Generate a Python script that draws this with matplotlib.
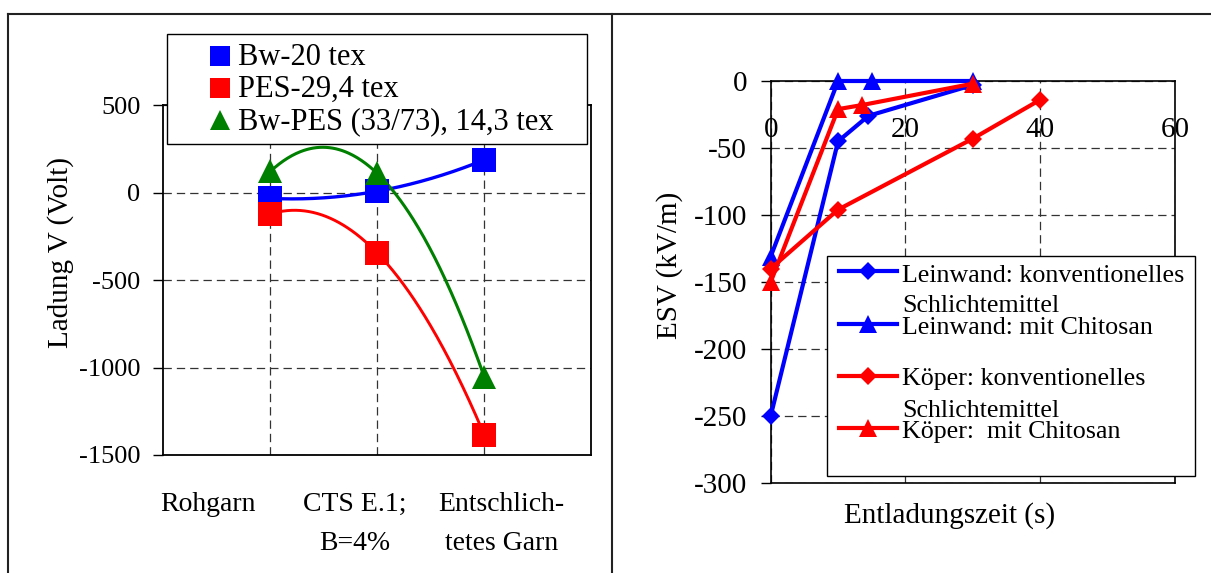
import numpy as np
import matplotlib
matplotlib.use("Agg")
import matplotlib.pyplot as plt
from matplotlib.lines import Line2D
from matplotlib.patches import Rectangle
from matplotlib import transforms

plt.rcParams["font.family"] = ["Liberation Serif", "DejaVu Serif"]
plt.rcParams["axes.unicode_minus"] = False
plt.rcParams["lines.scale_dashes"] = False

# ---- left panel: surface charge of yarns ----
stages = ["Rohgarn", "CTS E.1;\nB=4%", "Entschlich-\ntetes Garn"]
stage_x = [1, 2, 3]
bw20 = [-32, 9, 188]
pes294 = [-121, -344, -1383]
bwpes = [122, 111, -1051]
left_series = [
    ("Bw-20 tex", bw20, "#0000FF", "s", 2.4),
    ("PES-29,4 tex", pes294, "#FF0000", "s", 2.1),
    ("Bw-PES (33/73), 14,3 tex", bwpes, "#008000", "^", 2.2),
]
left_yticks = [-1500, -1000, -500, 0, 500]

# ---- right panel: field strength decay ----
lw_konv_t = [0, 10, 14.5, 30]
lw_konv_v = [-250, -45, -26, -3]
lw_chit_t = [0, 10, 15, 30]
lw_chit_v = [-131, 0, 0, 0]
kp_konv_t = [0, 10, 30, 40]
kp_konv_v = [-140, -96, -43, -14]
kp_chit_t = [0, 10, 13.5, 30]
kp_chit_v = [-150, -21, -18, -2]
right_series = [
    ("Leinwand: konventionelles\nSchlichtemittel", lw_konv_t, lw_konv_v, "#0000FF", "D"),
    ("Leinwand: mit Chitosan", lw_chit_t, lw_chit_v, "#0000FF", "^"),
    ("Köper: konventionelles\nSchlichtemittel", kp_konv_t, kp_konv_v, "#FF0000", "D"),
    ("Köper:  mit Chitosan", kp_chit_t, kp_chit_v, "#FF0000", "^"),
]
right_xticks = [0, 20, 40, 60]
right_yticks = list(range(-300, 1, 50))

W, H = 1211, 573
fig = plt.figure(figsize=(W / 100, H / 100), dpi=100)


def fx(x):
    return x / W


def fy(y):
    return 1 - y / H


grid_kw = dict(color="#333333", linewidth=0.9, linestyle=(0, (6, 3.6)))

# ---------------- left axes ----------------
axL = fig.add_axes([fx(163.4), fy(455), (591 - 163.4) / W, (455 - 105.4) / H])
for name, vals, col, mk, lw in left_series:
    coef = np.polyfit(stage_x, vals, 2)
    xs = np.linspace(stage_x[0], stage_x[-1], 200)
    axL.plot(xs, np.polyval(coef, xs), color=col, lw=lw, zorder=3)
    axL.plot(stage_x, vals, linestyle="none", marker=mk, ms=17.5,
             color=col, mec=col, mew=0, zorder=4)
axL.set_xlim(0, 4)
axL.set_ylim(-1500, 500)
axL.set_yticks(left_yticks)
axL.set_xticks(stage_x)
axL.set_xticklabels([])
axL.tick_params(axis="y", direction="out", length=7, width=1, pad=9.5,
                labelsize=19)
axL.tick_params(axis="x", length=0)
axL.grid(True, **grid_kw)
axL.set_axisbelow(True)
for s in axL.spines.values():
    s.set_linewidth(1.3)
    s.set_color("black")

tL = transforms.blended_transform_factory(axL.transData, fig.transFigure)
for xpos, lab in zip([0.42, 1.79, 3.16], stages):
    lines = lab.split("\n")
    for i, ln in enumerate(lines):
        axL.text(xpos, fy(510.7 + 39.5 * i), ln, transform=tL, ha="center",
                 va="baseline", fontsize=20, clip_on=False)

fig.text(fx(61), fy(252), "Ladung V (Volt)", rotation=90, ha="center",
         va="center", fontsize=21)

# left legend
fig.add_artist(Rectangle((fx(167), fy(144)), (587 - 167) / W, (144 - 34) / H,
                         transform=fig.transFigure, facecolor="white",
                         edgecolor="black", lw=1, zorder=5))
for (name, vals, col, mk, lw), yr, yb in zip(left_series, [56, 88, 120],
                                            [65, 97, 129]):
    fig.add_artist(Line2D([fx(220)], [fy(yr)], marker=mk, ms=14.5, color=col,
                          mew=0, linestyle="none",
                          transform=fig.transFigure, zorder=6))
    fig.text(fx(238), fy(yb), name, fontsize=22, va="baseline", zorder=6)

# ---------------- right axes ----------------
axR = fig.add_axes([fx(770.7), fy(483), (1175 - 770.7) / W, (483 - 81) / H])
for name, t, v, col, mk in right_series:
    axR.plot(t, v, color=col, lw=3, marker=mk,
             ms=9 if mk == "D" else 13, mec=col, mew=0, zorder=3,
             clip_on=False)
axR.set_xlim(0, 60)
axR.set_ylim(-300, 0)
axR.set_xticks(right_xticks)
axR.set_yticks(right_yticks)
axR.spines["bottom"].set_position(("data", 0))
axR.spines["top"].set_position(("data", -300))
axR.tick_params(axis="y", direction="out", length=7.5, width=1, pad=9.5,
                labelsize=21)
axR.tick_params(axis="x", direction="in", length=0, pad=26, labelsize=21)
axR.grid(True, **grid_kw)
axR.set_axisbelow(True)
for s in axR.spines.values():
    s.set_linewidth(1.2)
    s.set_color("black")

fig.text(fx(669.5), fy(265), "ESV (kV/m)", rotation=90, ha="center",
         va="center", fontsize=21)
fig.text(fx(949.6), fy(522.5), "Entladungszeit (s)", ha="center",
         va="baseline", fontsize=21)

# right legend
fig.add_artist(Rectangle((fx(827), fy(476)), (1195 - 827) / W, (476 - 256) / H,
                         transform=fig.transFigure, facecolor="white",
                         edgecolor="black", lw=1, zorder=5))
handle_y = [271, 324, 375.5, 428]
text_base = [[281.7, 311.7], [333.5], [385.5, 416.6], [438.3]]
for (name, t, v, col, mk), hy, bases in zip(right_series, handle_y, text_base):
    fig.add_artist(Line2D([fx(839), fx(897)], [fy(hy), fy(hy)], color=col,
                          lw=3, transform=fig.transFigure, zorder=6))
    fig.add_artist(Line2D([fx(868)], [fy(hy)], marker=mk,
                          ms=9 if mk == "D" else 13, color=col, mew=0,
                          linestyle="none", transform=fig.transFigure,
                          zorder=6))
    for ln, b in zip(name.split("\n"), bases):
        fig.text(fx(902), fy(b), ln, fontsize=18.7, va="baseline", zorder=6)

# page frame
frame_kw = dict(color="#222222", lw=1.5, transform=fig.transFigure, zorder=7)
fig.add_artist(Line2D([fx(7.8), fx(1211)], [fy(13.5), fy(13.5)], **frame_kw))
fig.add_artist(Line2D([fx(7.8), fx(7.8)], [fy(13.5), fy(573)], **frame_kw))
fig.add_artist(Line2D([fx(612), fx(612)], [fy(13.5), fy(573)], **frame_kw))

fig.savefig("out.png", dpi=100)
